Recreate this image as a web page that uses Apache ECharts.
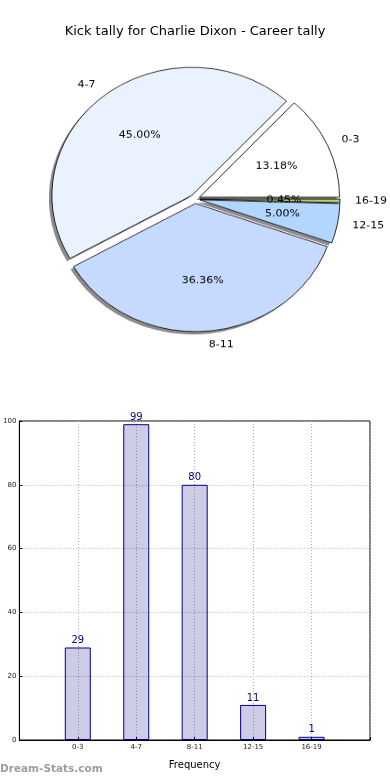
<!DOCTYPE html>
<html><head><meta charset="utf-8">
<script src="https://cdn.jsdelivr.net/npm/echarts@6/dist/echarts.min.js"></script>
<style>
html,body{margin:0;padding:0;background:#fff;width:390px;height:780px;overflow:hidden;}
#main{position:absolute;left:0;top:0;width:390px;height:780px;}
#pie{position:absolute;left:0;top:0;width:390px;height:400px;transform:scaleY(0.915);transform-origin:195px 199px;}
</style></head>
<body><div id="main"></div><div id="pie"></div>
<script>
const titleText = 'Kick tally for Charlie Dixon - Career tally';
const categories = ['0-3', '4-7', '8-11', '12-15', '16-19'];
const counts = [29, 99, 80, 11, 1];
const sliceColors = ['#ffffff', '#ebf2ff', '#c6d9ff', '#b3d6ff', '#b4cf6e'];
const yTicks = [0, 20, 40, 60, 80, 100];
const xAxisName = 'Frequency';
const watermark = 'Dream-Stats.com';

const FONT = 'DejaVu Sans';
const total = counts.reduce((a, b) => a + b, 0);

// ---------- bar chart + title ----------
const main = echarts.init(document.getElementById('main'), null, {renderer: 'canvas'});
const xCats = [''].concat(categories, ['']);
const barData = [null].concat(counts, [null]);
main.setOption({
  animation: false,
  backgroundColor: '#fff',
  title: {
    text: titleText, left: 'center', top: 20,
    textStyle: {fontFamily: FONT, fontSize: 13, fontWeight: 'normal', color: '#000'}
  },
  grid: {left: 19, right: 20, top: 421, bottom: 40, show: true, borderColor: '#000', borderWidth: 1, backgroundColor: 'transparent'},
  xAxis: {
    type: 'category', data: xCats, boundaryGap: false,
    name: xAxisName, nameLocation: 'middle', nameGap: 20,
    nameTextStyle: {fontFamily: FONT, fontSize: 10, color: '#000'},
    axisLine: {show: true, lineStyle: {color: '#000', width: 1}},
    axisTick: {show: true, inside: true, length: 3, interval: 0, lineStyle: {color: '#000'}},
    axisLabel: {interval: 0, fontFamily: FONT, fontSize: 7, color: '#222', margin: 4},
    splitLine: {show: true, interval: 0, lineStyle: {color: '#b0b0b0', type: [1, 2], width: 1}}
  },
  yAxis: {
    type: 'value', min: yTicks[0], max: yTicks[yTicks.length - 1], interval: 20,
    axisLine: {show: true, lineStyle: {color: '#000', width: 1}},
    axisTick: {show: true, inside: true, length: 3, lineStyle: {color: '#000'}},
    axisLabel: {fontFamily: FONT, fontSize: 7, color: '#222', margin: 3},
    splitLine: {show: true, lineStyle: {color: '#b0b0b0', type: [1, 2], width: 1}}
  },
  series: [{
    type: 'bar', data: barData, barWidth: 26,
    itemStyle: {color: 'rgba(0,0,128,0.2)', borderColor: '#000080', borderWidth: 1},
    label: {show: true, position: 'top', distance: 2, fontFamily: FONT, fontSize: 10, color: '#000080'}
  }],
  graphic: [{
    type: 'text', left: 0, top: 764,
    style: {text: watermark, fontFamily: FONT, fontSize: 10.5, fontWeight: 'bold', fill: '#9d9d9d'}
  }]
});

// ---------- pie chart (elliptical via CSS scale) ----------
const pie = echarts.init(document.getElementById('pie'), null, {renderer: 'canvas'});
const pieItems = categories.map((c, i) => ({
  name: c, value: counts[i], selected: true,
  itemStyle: {color: sliceColors[i]}
}));
const plainItems = categories.map((c, i) => ({name: c, value: counts[i], selected: true}));
const sliceStyle = {borderColor: '#000', borderWidth: 0.8};
const common = {
  type: 'pie', startAngle: 0, clockwise: false,
  selectedMode: 'multiple', selectedOffset: 5,
  avoidLabelOverlap: false, minShowLabelAngle: 0, silent: true,
  emphasis: {disabled: true, scale: false}
};
pie.setOption({
  animation: false,
  series: [Object.assign({}, common, {
    // shadow copy, shifted left-down
    center: [192, 202], radius: [0, 140], z: 1,
    data: plainItems,
    itemStyle: {color: '#8c8c8c', borderWidth: 0},
    select: {itemStyle: {color: '#8c8c8c', borderWidth: 0}},
    label: {show: false}, labelLine: {show: false}
  }), Object.assign({}, common, {
    center: [195, 199], radius: [0, 140], z: 2,
    data: pieItems,
    itemStyle: sliceStyle,
    select: {itemStyle: sliceStyle},
    label: {show: true, position: 'outside', distanceToLabelLine: 0,
      fontFamily: FONT, fontSize: 11, color: '#000'},
    labelLine: {show: false, length: 15, length2: 0}
  }), Object.assign({}, common, {
    center: [195, 199], radius: [0, 162], z: 3,
    data: plainItems,
    itemStyle: {color: 'rgba(0,0,0,0)', borderWidth: 0},
    select: {itemStyle: {color: 'rgba(0,0,0,0)', borderWidth: 0}},
    label: {show: true, position: 'inside',
      formatter: p => (p.value / total * 100).toFixed(2) + '%',
      fontFamily: FONT, fontSize: 11, color: '#000'},
    labelLine: {show: false}
  })]
});
</script>
</body></html>
